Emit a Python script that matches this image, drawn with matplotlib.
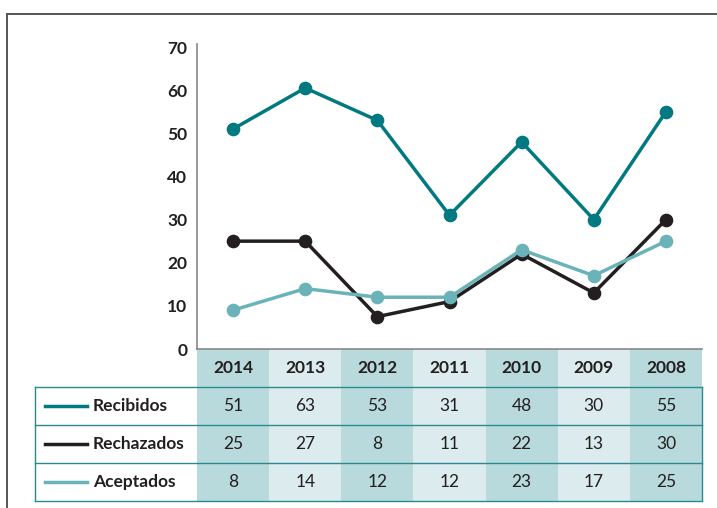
import matplotlib.pyplot as plt
from matplotlib.lines import Line2D
from matplotlib.patches import Rectangle

# years shown left to right
years = ["2014", "2013", "2012", "2011", "2010", "2009", "2008"]
series_names = ["Recibidos", "Rechazados", "Aceptados"]

# values as drawn in the line chart
recibidos = [51, 60.5, 53, 31, 48, 30, 55]
rechazados = [25, 25, 7.5, 11, 22, 13, 30]
aceptados = [9, 14, 12, 12, 23, 17, 25]

# values printed in the table underneath
recibidos_tabla = [51, 63, 53, 31, 48, 30, 55]
rechazados_tabla = [25, 27, 8, 11, 22, 13, 30]
aceptados_tabla = [8, 14, 12, 12, 23, 17, 25]

yticks = [0, 10, 20, 30, 40, 50, 60, 70]

colors = ["#007a80", "#231f20", "#6ab3b9"]
dark_col = "#b9dadd"
light_col = "#dcebee"
plt.rcParams["font.family"] = ["Lato", "DejaVu Sans"]
FS = 12.5

W, H = 717, 508
fig = plt.figure(figsize=(W / 100, H / 100), dpi=100)

# outer frame (top and left only)
fig.add_artist(Line2D([7 / W, 1], [1 - 14 / H] * 2, color="#555555", lw=1.4))
fig.add_artist(Line2D([7 / W] * 2, [0, 1 - 14 / H], color="#555555", lw=1.4))

# --- line chart ---
x0, x1 = 197, 702
ax = fig.add_axes([x0 / W, 1 - 349 / H, (x1 - x0) / W, (349 - 44) / H])
xs = range(len(years))
for vals, c in zip([recibidos, rechazados, aceptados], colors):
    ax.plot(xs, vals, color=c, lw=2.5, marker="o", markersize=8.8, zorder=3)

ax.set_xlim(-0.5, len(years) - 0.5)
ax.set_ylim(0, 70.7)
ax.set_yticks(yticks)
ax.set_yticklabels([str(t) for t in yticks], fontsize=FS, fontweight="bold", color="#231f20")
ax.tick_params(axis="y", length=0, pad=7)
ax.set_xticks([])
for s in ["top", "right", "bottom"]:
    ax.spines[s].set_visible(False)
ax.spines["left"].set_color("#888888")
ax.spines["left"].set_linewidth(1.2)
ax.patch.set_alpha(0)

# --- table below ---
col_w = (x1 - x0) / len(years)
lab_w = (x0 - 35) / col_w
tx = fig.add_axes([35 / W, 1 - 501 / H, (x1 - 35) / W, (501 - 349) / H])
tx.set_xlim(-0.5 - lab_w, len(years) - 0.5)
tx.set_ylim(4, 0)
tx.axis("off")

for i, yr in enumerate(years):
    fc = dark_col if i % 2 == 0 else light_col
    tx.add_patch(Rectangle((i - 0.5, 0), 1, 4, facecolor=fc, edgecolor="none"))
    tx.text(i, 0.5, yr, ha="center", va="center", fontsize=FS, fontweight="bold", color="#231f20")

# x axis line on top of header
tx.plot([-0.5, len(years) - 0.5], [0, 0], color="#888888", lw=1.2, clip_on=False)

tabla = [recibidos_tabla, rechazados_tabla, aceptados_tabla]
for r, (name, vals, c) in enumerate(zip(series_names, tabla, colors)):
    yc = r + 1.5
    tx.plot([-0.5 - lab_w + 0.14, -0.5 - lab_w + 0.72], [yc, yc], color=c, lw=2.5)
    tx.text(-0.5 - lab_w + 0.8, yc, name, ha="left", va="center", fontsize=FS,
            fontweight="bold", color="#231f20")
    for i, v in enumerate(vals):
        tx.text(i, yc, str(v), ha="center", va="center", fontsize=FS, color="#231f20")

# teal grid lines of the table body
left = -0.5 - lab_w
right = len(years) - 0.5
for yl in [1, 2, 3, 4]:
    tx.plot([left, right], [yl, yl], color="#2a8a90", lw=1.0, clip_on=False)
tx.plot([left, left], [1, 4], color="#2a8a90", lw=1.0, clip_on=False)
tx.plot([right, right], [1, 4], color="#2a8a90", lw=1.0, clip_on=False)

plt.savefig("out.png", dpi=100)
